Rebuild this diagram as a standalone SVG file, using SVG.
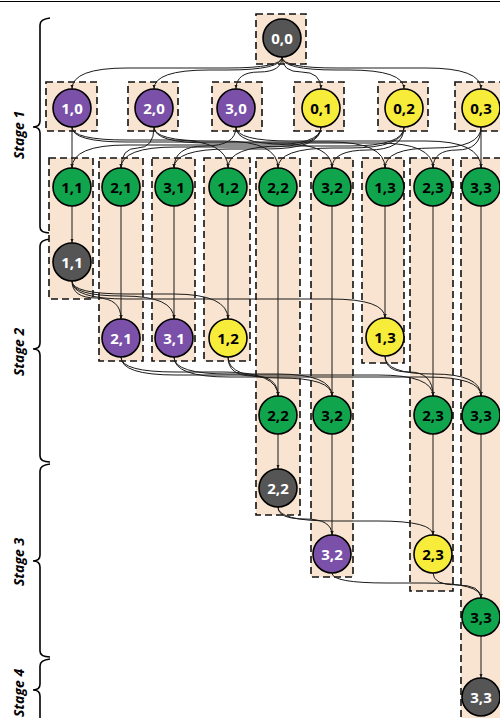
<svg xmlns="http://www.w3.org/2000/svg" width="500" height="718" viewBox="0 0 500 718">
<style>
.box{fill:#F8E4D0;stroke:#111;stroke-width:1.6;stroke-dasharray:7 4}
.e{fill:none;stroke:#1a1a1a;stroke-width:1;marker-end:url(#ah)}
.n circle{stroke:#000;stroke-width:1.6}
.n text{font-family:"Open Sans","DejaVu Sans",sans-serif;font-weight:700;font-size:15px;text-anchor:middle;dominant-baseline:central}
.pu circle{fill:#7A50A8}.pu text{fill:#fff}
.gy circle{fill:#555}.gy text{fill:#fff}
.gr circle{fill:#10A44C}.gr text{fill:#000}
.ye circle{fill:#F7EC3A}.ye text{fill:#000}
.brace{fill:none;stroke:#000;stroke-width:1.6}
.lab{font-family:"Open Sans","DejaVu Sans",sans-serif;font-weight:700;font-style:italic;font-size:14px;text-anchor:middle}
</style>
<defs>
<marker id="ah" markerUnits="userSpaceOnUse" markerWidth="5" markerHeight="4" refX="4" refY="1.5" orient="auto"><path d="M0,0 L4,1.5 L0,3 z" fill="#1a1a1a"/></marker>
</defs>
<rect width="500" height="718" fill="#fff"/>
<line x1="0" y1="1.5" x2="500" y2="1.5" stroke="#000" stroke-width="1.2"/>

<g id="braces">
<path class="brace" d="M50,18 Q40,19 40,25 L40,121 Q40,127 33,127 Q40,127 40,133 L40,227 Q40,233 50,233"/>
<path class="brace" d="M50,239 Q40,240 40,246 L40,343 Q40,349 33,349 Q40,349 40,355 L40,456 Q40,462 50,462"/>
<path class="brace" d="M50,464 Q40,465 40,471 L40,555 Q40,561 33,561 Q40,561 40,567 L40,651 Q40,657 50,657"/>
<path class="brace" d="M50,659 Q40,660 40,666 L40,684 Q40,690 33,690 Q40,690 40,696 L40,740"/>
<text class="lab" transform="translate(24,135) rotate(-90)">Stage 1</text>
<text class="lab" transform="translate(24,352) rotate(-90)">Stage 2</text>
<text class="lab" transform="translate(24,562) rotate(-90)">Stage 3</text>
<text class="lab" transform="translate(24,693) rotate(-90)">Stage 4</text>
</g>

<g id="boxes">
<rect id="box-0-0" class="box" x="256" y="14" width="50" height="50"/>
<rect id="box-1-0" class="box" x="46" y="82" width="51" height="49"/>
<rect id="box-2-0" class="box" x="128" y="82" width="50" height="49"/>
<rect id="box-3-0" class="box" x="212" y="82" width="50" height="49"/>
<rect id="box-0-1" class="box" x="294" y="82" width="50" height="49"/>
<rect id="box-0-2" class="box" x="378" y="82" width="50" height="49"/>
<rect id="box-0-3" class="box" x="455" y="82" width="52" height="49"/>
<rect id="col-1-1" class="box" x="49" y="158" width="44" height="141"/>
<rect id="col-2-1" class="box" x="99" y="158" width="44" height="203"/>
<rect id="col-3-1" class="box" x="152" y="158" width="43" height="203"/>
<rect id="col-1-2" class="box" x="204" y="158" width="46" height="203"/>
<rect id="col-2-2" class="box" x="256" y="158" width="44" height="357"/>
<rect id="col-3-2" class="box" x="311" y="158" width="42" height="419"/>
<rect id="col-1-3" class="box" x="362" y="158" width="42" height="205"/>
<rect id="col-2-3" class="box" x="410" y="158" width="43" height="433"/>
<rect id="col-3-3" class="box" x="461" y="158" width="46" height="580"/>
</g>

<g id="connectors">
<path class="e" d="M282,57 Q282,68 227,68 L127,68 Q72,68 72,89"/>
<path class="e" d="M282,57 Q282,70 227,70 L209,70 Q154,70 154,89"/>
<path class="e" d="M282,57 Q282,72 259,72 Q236,72 236,89"/>
<path class="e" d="M282,57 Q282,72 301.5,72 Q321,72 321,89"/>
<path class="e" d="M282,57 Q282,70 337,70 L349,70 Q404,70 404,89"/>
<path class="e" d="M282,57 Q282,68 337,68 L426,68 Q481,68 481,89"/>

<path class="e" d="M72,127 L72,168"/>
<path class="e" d="M72,127 Q72,140 127,140 L173,140 Q228,140 228,168"/>
<path class="e" d="M72,127 Q72,142 127,142 L330,142 Q385,142 385,168"/>
<path class="e" d="M154,127 Q154,148 137.5,148 Q121,148 121,168"/>
<path class="e" d="M154,127 Q154,141 209,141 L223,141 Q278,141 278,168"/>
<path class="e" d="M154,127 Q154,143 209,143 L378,143 Q433,143 433,168"/>
<path class="e" d="M236,127 Q236,146 205,146 Q174,146 174,168"/>
<path class="e" d="M236,127 Q236,144 284,144 Q332,144 332,168"/>
<path class="e" d="M236,127 Q236,141 291,141 L426,141 Q481,141 481,168"/>
<path class="e" d="M321,127 Q321,145 266,145 L127,145 Q72,145 72,168"/>
<path class="e" d="M321,127 Q321,147 266,147 L176,147 Q121,147 121,168"/>
<path class="e" d="M321,127 Q321,149 266,149 L229,149 Q174,149 174,168"/>
<path class="e" d="M404,127 Q404,146 349,146 L283,146 Q228,146 228,168"/>
<path class="e" d="M404,127 Q404,148 349,148 L333,148 Q278,148 278,168"/>
<path class="e" d="M404,127 Q404,150 368,150 Q332,150 332,168"/>
<path class="e" d="M481,127 Q481,148 433,148 Q385,148 385,168"/>
<path class="e" d="M481,127 Q481,150 457,150 Q433,150 433,168"/>
<path class="e" d="M481,127 L481,168"/>

<path class="e" d="M72,206 L72,243"/>
<path class="e" d="M121,206 L121,319"/>
<path class="e" d="M174,206 L174,319"/>
<path class="e" d="M228,206 L228,319"/>
<path class="e" d="M278,206 L278,396"/>
<path class="e" d="M332,206 L332,396"/>
<path class="e" d="M385,206 L385,318"/>
<path class="e" d="M433,206 L433,396"/>
<path class="e" d="M481,206 L481,396"/>

<path class="e" d="M72,281 Q72,298 96.5,298 Q121,298 121,319"/>
<path class="e" d="M72,281 Q72,296 123,296 Q174,296 174,319"/>
<path class="e" d="M72,281 Q72,294 127,294 L173,294 Q228,294 228,319"/>
<path class="e" d="M72,281 Q72,299 127,299 L330,299 Q385,299 385,318"/>

<path class="e" d="M121,357 Q121,372 176,372 L223,372 Q278,372 278,396"/>
<path class="e" d="M121,357 Q121,375 176,375 L378,375 Q433,375 433,396"/>
<path class="e" d="M174,357 Q174,374 229,374 L277,374 Q332,374 332,396"/>
<path class="e" d="M174,357 Q174,377 229,377 L426,377 Q481,377 481,396"/>
<path class="e" d="M228,357 Q228,376 253,376 Q278,376 278,396"/>
<path class="e" d="M228,357 Q228,378 280,378 Q332,378 332,396"/>
<path class="e" d="M385,356 Q385,372 409,372 Q433,372 433,396"/>
<path class="e" d="M385,356 Q385,374 433,374 Q481,374 481,396"/>

<path class="e" d="M278,434 L278,469"/>
<path class="e" d="M332,434 L332,535"/>
<path class="e" d="M433,434 L433,535"/>
<path class="e" d="M481,434 L481,598"/>
<path class="e" d="M278,507 Q278,519 305,519 Q332,519 332,535"/>
<path class="e" d="M278,507 Q278,521 333,521 L378,521 Q433,521 433,535"/>
<path class="e" d="M332,573 Q332,583 387,583 L426,583 Q481,583 481,598"/>
<path class="e" d="M433,573 Q433,585 457,585 Q481,585 481,598"/>
<path class="e" d="M481,636 L481,678"/>
</g>

<g id="n-0-0-s0" class="n gy"><circle cx="282" cy="38" r="19"/><text x="282" y="38">0,0</text></g>
<g id="n-1-0-s1" class="n pu"><circle cx="72" cy="108" r="19"/><text x="72" y="108">1,0</text></g>
<g id="n-2-0-s1" class="n pu"><circle cx="154" cy="108" r="19"/><text x="154" y="108">2,0</text></g>
<g id="n-3-0-s1" class="n pu"><circle cx="236" cy="108" r="19"/><text x="236" y="108">3,0</text></g>
<g id="n-0-1-s1" class="n ye"><circle cx="321" cy="108" r="19"/><text x="321" y="108">0,1</text></g>
<g id="n-0-2-s1" class="n ye"><circle cx="404" cy="108" r="19"/><text x="404" y="108">0,2</text></g>
<g id="n-0-3-s1" class="n ye"><circle cx="481" cy="108" r="19"/><text x="481" y="108">0,3</text></g>

<g id="n-1-1-s1" class="n gr"><circle cx="72" cy="187" r="19"/><text x="72" y="187">1,1</text></g>
<g id="n-2-1-s1" class="n gr"><circle cx="121" cy="187" r="19"/><text x="121" y="187">2,1</text></g>
<g id="n-3-1-s1" class="n gr"><circle cx="174" cy="187" r="19"/><text x="174" y="187">3,1</text></g>
<g id="n-1-2-s1" class="n gr"><circle cx="228" cy="187" r="19"/><text x="228" y="187">1,2</text></g>
<g id="n-2-2-s1" class="n gr"><circle cx="278" cy="187" r="19"/><text x="278" y="187">2,2</text></g>
<g id="n-3-2-s1" class="n gr"><circle cx="332" cy="187" r="19"/><text x="332" y="187">3,2</text></g>
<g id="n-1-3-s1" class="n gr"><circle cx="385" cy="187" r="19"/><text x="385" y="187">1,3</text></g>
<g id="n-2-3-s1" class="n gr"><circle cx="433" cy="187" r="19"/><text x="433" y="187">2,3</text></g>
<g id="n-3-3-s1" class="n gr"><circle cx="481" cy="187" r="19"/><text x="481" y="187">3,3</text></g>

<g id="n-1-1-s2" class="n gy"><circle cx="72" cy="262" r="19"/><text x="72" y="262">1,1</text></g>
<g id="n-2-1-s2" class="n pu"><circle cx="121" cy="338" r="19"/><text x="121" y="338">2,1</text></g>
<g id="n-3-1-s2" class="n pu"><circle cx="174" cy="338" r="19"/><text x="174" y="338">3,1</text></g>
<g id="n-1-2-s2" class="n ye"><circle cx="228" cy="338" r="19"/><text x="228" y="338">1,2</text></g>
<g id="n-1-3-s2" class="n ye"><circle cx="385" cy="337" r="19"/><text x="385" y="337">1,3</text></g>
<g id="n-2-2-s2" class="n gr"><circle cx="278" cy="415" r="19"/><text x="278" y="415">2,2</text></g>
<g id="n-3-2-s2" class="n gr"><circle cx="332" cy="415" r="19"/><text x="332" y="415">3,2</text></g>
<g id="n-2-3-s2" class="n gr"><circle cx="433" cy="415" r="19"/><text x="433" y="415">2,3</text></g>
<g id="n-3-3-s2" class="n gr"><circle cx="481" cy="415" r="19"/><text x="481" y="415">3,3</text></g>

<g id="n-2-2-s3" class="n gy"><circle cx="278" cy="488" r="19"/><text x="278" y="488">2,2</text></g>
<g id="n-3-2-s3" class="n pu"><circle cx="332" cy="554" r="19"/><text x="332" y="554">3,2</text></g>
<g id="n-2-3-s3" class="n ye"><circle cx="433" cy="554" r="19"/><text x="433" y="554">2,3</text></g>
<g id="n-3-3-s3" class="n gr"><circle cx="481" cy="617" r="19"/><text x="481" y="617">3,3</text></g>
<g id="n-3-3-s4" class="n gy"><circle cx="481" cy="697" r="19"/><text x="481" y="697">3,3</text></g>
</svg>
